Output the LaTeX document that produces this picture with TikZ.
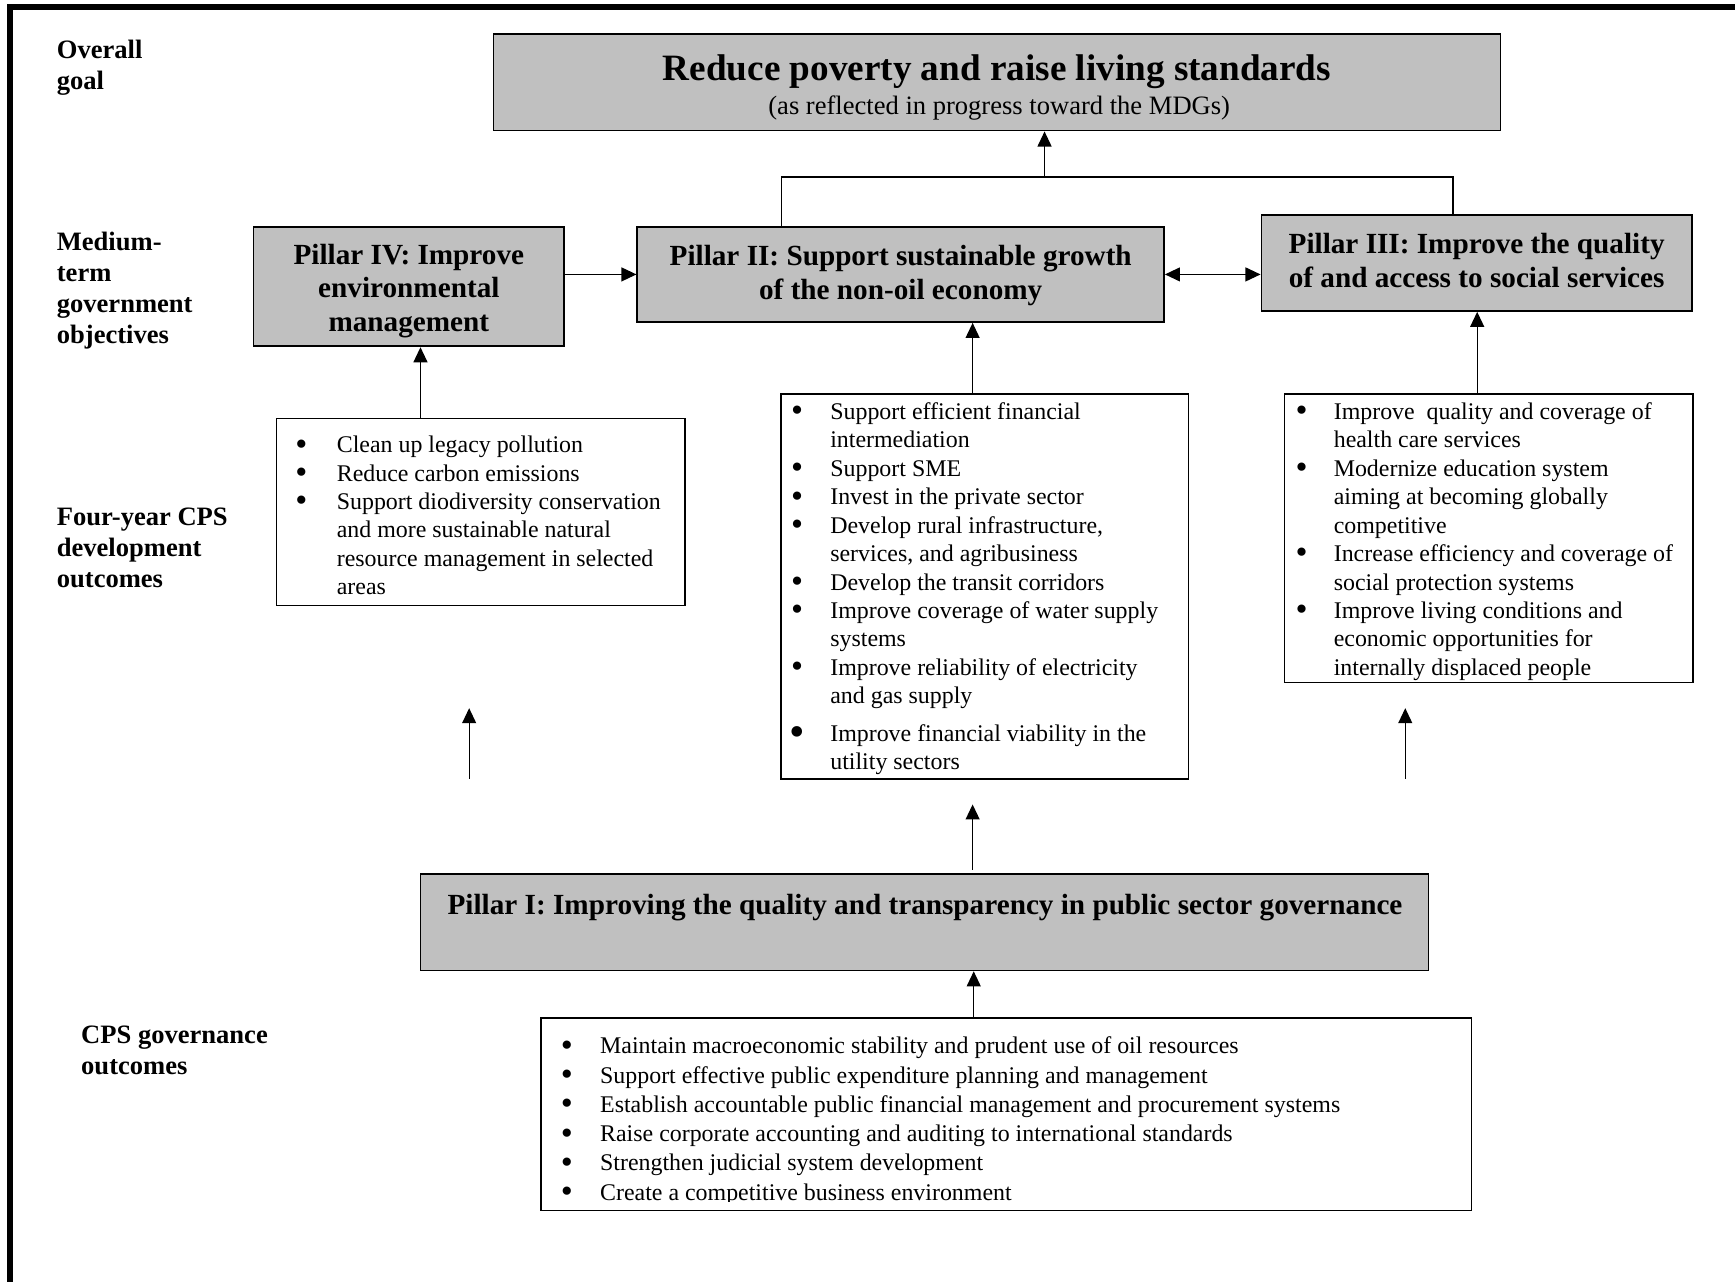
\documentclass[tikz,border=0pt]{standalone}
\usepackage{fontspec}
\setmainfont{Liberation Serif}
\usetikzlibrary{arrows.meta}
\definecolor{boxgray}{HTML}{C0C0C0}
\newlength\bgap
\newcommand\mlines[1]{\begin{tabular}[t]{@{}l@{}}#1\end{tabular}}
\newcommand\bdot{\smash{\raisebox{-1.1pt}{\fontsize{15.5}{15.5}\selectfont\textbullet}}}
\newcommand\bdotbig{\smash{\raisebox{-2.4pt}{\fontsize{20}{20}\selectfont\textbullet}}}
\newcommand\bu{\llap{\makebox[0pt]{\bdot}\hspace{\bgap}}}
\newcommand\bubig{\llap{\makebox[0pt]{\bdotbig}\hspace{\bgap}}}
\tikzset{
  grayb/.style={draw, line width=0.8pt, fill=boxgray, inner sep=0pt},
  grayt/.style={inner sep=0pt, align=center, font=\fontsize{13.2}{15.3}\selectfont\bfseries},
  listb/.style={draw, line width=0.65pt, fill=white, inner sep=0pt},
  listt/.style={anchor=base west, inner sep=0pt, font=\fontsize{10.8}{12.85}\selectfont},
  sidet/.style={anchor=base west, inner sep=0pt, font=\fontsize{12}{14}\selectfont\bfseries},
  arr/.style={line width=0.6pt, -{Triangle[length=6.8pt,width=6.3pt]}},
  darr/.style={line width=0.6pt, {Triangle[length=6.8pt,width=6.3pt]}-{Triangle[length=6.8pt,width=6.3pt]}},
  conn/.style={line width=0.6pt},
}
\begin{document}
\begin{tikzpicture}[x=0.5pt,y=-0.5pt]
\useasboundingbox (0,0) rectangle (1568,1158);
\fill[white] (0,0) rectangle (1568,1158);
% frame
\draw[line width=2.8pt, line join=miter] (9,1170) -- (9,6.5) -- (1580,6.5);

% side labels
\node[sidet] (lab1) at (51,53) {\mlines{Overall\\goal}};
\node[sidet] (lab2) at (51,226) {\mlines{Medium-\\term\\government\\objectives}};
\node[sidet] (lab3) at (51,475) {\mlines{Four-year CPS\\development\\outcomes}};
\node[sidet] (lab4) at (73,943) {\mlines{CPS governance\\outcomes}};

% goal
\node[grayb, minimum width=455pt, minimum height=43.5pt] (goal) at (901,74.5) {};
\node[inner sep=0pt, font=\fontsize{16.8}{19}\selectfont\bfseries] (goalt) at (901,65) {Reduce poverty and raise living standards};
\node[inner sep=0pt, font=\fontsize{12}{14}\selectfont] (goals) at (903,98) {(as reflected in progress toward the MDGs)};

% pillars
\node[grayb, minimum width=140.5pt, minimum height=54pt] (p4) at (369.5,259) {};
\node[grayt] (p4t) at (369.5,263) {Pillar IV: Improve\\environmental\\management};
\node[grayb, minimum width=238pt, minimum height=43pt] (p2) at (814,248) {};
\node[grayt] (p2t) at (814,249) {Pillar II: Support sustainable growth\\of the non-oil economy};
\node[grayb, minimum width=194.5pt, minimum height=43.5pt] (p3) at (1334.5,237.5) {};
\node[grayt] (p3t) at (1334.5,235.5) {Pillar III: Improve the quality\\of and access to social services};
\node[grayb, minimum width=455.5pt, minimum height=43.5pt] (p1) at (835.5,833.5) {};
\node[grayt] (p1t) at (836,820) {Pillar I: Improving the quality and transparency in public sector governance};

% list boxes
\node[listb, minimum width=184.5pt, minimum height=84.5pt] (l4) at (434.5,462.5) {};
\node[listb, minimum width=184pt, minimum height=174pt] (l2) at (890,530) {};
\node[listb, minimum width=184.5pt, minimum height=130.5pt] (l3) at (1345.5,486.5) {};
\node[listb, minimum width=420.5pt, minimum height=87pt] (lg) at (909.5,1007) {};

\node[listt] (l4t) at (304,409) {\setlength\bgap{16pt}\mlines{%
\bu Clean up legacy pollution\\
\bu Reduce carbon emissions\\
\bu Support diodiversity conservation\\
and more sustainable natural\\
resource management in selected\\
areas}};

\node[listt] (l2t) at (750,379) {\setlength\bgap{15pt}\mlines{%
\bu Support efficient financial\\
intermediation\\
\bu Support SME\\
\bu Invest in the private sector\\
\bu Develop rural infrastructure,\\
services, and agribusiness\\
\bu Develop the transit corridors\\
\bu Improve coverage of water supply\\
systems\\
\bu Improve reliability of electricity\\
and gas supply\\[4pt]
\bubig Improve financial viability in the\\
utility sectors}};

\node[listt] (l3t) at (1205,379) {\setlength\bgap{14.5pt}\mlines{%
\bu Improve\ \ quality and coverage of\\
health care services\\
\bu Modernize education system\\
aiming at becoming globally\\
competitive\\
\bu Increase efficiency and coverage of\\
social protection systems\\
\bu Improve living conditions and\\
economic opportunities for\\
internally displaced people}};

\begin{scope}
\clip (lg.north west) rectangle ([yshift=4.25pt]lg.south east);
\node[listt, font=\fontsize{10.8}{13.2}\selectfont] (lgt) at (542,952.5) {\setlength\bgap{15pt}\mlines{%
\bu Maintain macroeconomic stability and prudent use of oil resources\\
\bu Support effective public expenditure planning and management\\
\bu Establish accountable public financial management and procurement systems\\
\bu Raise corporate accounting and auditing to international standards\\
\bu Strengthen judicial system development\\
\bu Create a competitive business environment}};
\end{scope}

% connector coordinates
\coordinate (jl) at (706,160);
\coordinate (jm) at (944,160);
\coordinate (jr) at (1313,160);
\coordinate (x4) at (380,0);
\coordinate (x2) at (879,0);
\coordinate (x3) at (1335,0);
\coordinate (xg) at (880,0);
\coordinate (fa) at (424,704);
\coordinate (fat) at (424,640);
\coordinate (fb) at (1270,704);
\coordinate (fbt) at (1270,640);
\coordinate (fc) at (879,786);
\coordinate (fct) at (879,727);

% connectors
\draw[conn] (p2.north -| jl) -- (jl) -- (jr) -- (p3.north -| jr);
\draw[arr] (jm) -- (goal.south -| jm);
\draw[arr] (p4.east |- p2.west) -- (p2.west);
\draw[darr] (p2.east) -- (p3.west |- p2.east);
\draw[arr] (l4.north -| x4) -- (p4.south -| x4);
\draw[arr] (l2.north -| x2) -- (p2.south -| x2);
\draw[arr] (l3.north -| x3) -- (p3.south -| x3);
\draw[arr] (lg.north -| xg) -- (p1.south -| xg);
\draw[arr] (fa) -- (fat);
\draw[arr] (fb) -- (fbt);
\draw[arr] (fc) -- (fct);
\end{tikzpicture}
\end{document}
